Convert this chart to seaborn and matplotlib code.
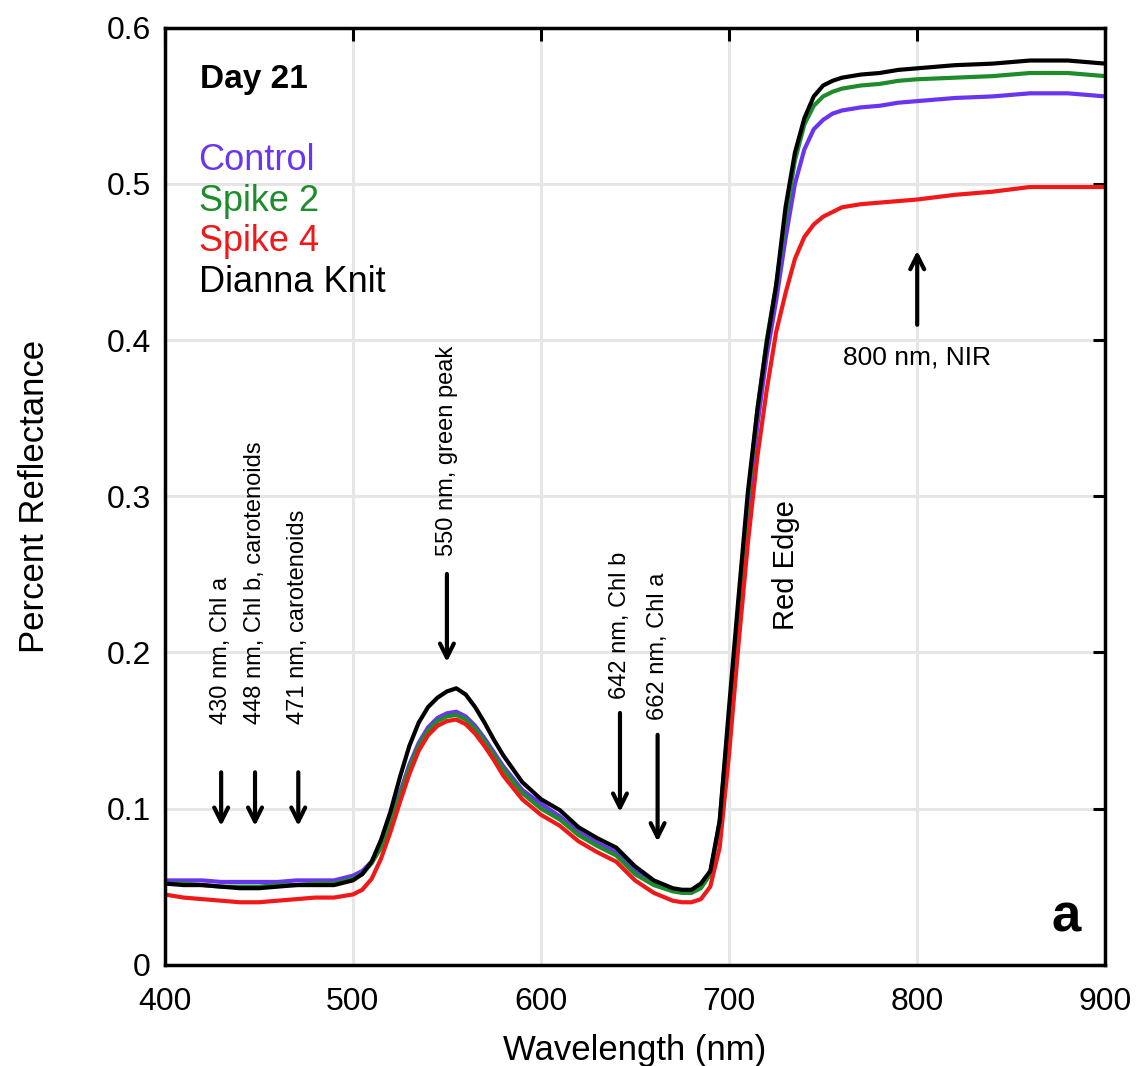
import numpy as np
import pandas as pd
import matplotlib
matplotlib.use("Agg")
import matplotlib.pyplot as plt
import seaborn as sns

# wavelengths (nm) shared by all four spectra
wavelength = [400, 410, 420, 430, 440, 450, 460, 470, 480, 490,
              500, 505, 510, 515, 520, 525, 530, 535, 540, 545,
              550, 555, 560, 565, 570, 575, 580, 590, 600, 610,
              620, 630, 640, 650, 660, 670, 675, 680, 685, 690,
              695, 700, 705, 710, 715, 720, 725, 730, 735, 740,
              745, 750, 755, 760, 770, 780, 790, 800, 820, 840,
              860, 880, 900]

control = [.054, .054, .054, .053, .053, .053, .053, .054, .054, .054,
           .057, .060, .066, .076, .092, .110, .128, .142, .152, .158,
           .161, .162, .159, .153, .145, .136, .127, .112, .103, .095,
           .085, .078, .072, .060, .052, .048, .047, .047, .050, .058,
           .090, .155, .225, .290, .345, .390, .425, .465, .500, .522,
           .535, .541, .545, .547, .549, .550, .552, .553, .555, .556,
           .558, .558, .556]

spike2 = [.052, .052, .051, .050, .050, .050, .051, .051, .052, .052,
          .055, .058, .065, .075, .090, .108, .126, .140, .150, .156,
          .159, .160, .157, .151, .143, .134, .125, .110, .100, .093,
          .083, .076, .070, .058, .051, .047, .046, .046, .049, .058,
          .092, .160, .230, .298, .355, .400, .435, .478, .515, .538,
          .550, .556, .559, .561, .563, .564, .566, .567, .568, .569,
          .571, .571, .569]

spike4 = [.045, .043, .042, .041, .040, .040, .041, .042, .043, .043,
          .045, .048, .055, .068, .085, .104, .122, .137, .147, .153,
          .156, .157, .154, .148, .140, .131, .121, .106, .096, .089,
          .079, .072, .066, .054, .046, .041, .040, .040, .042, .050,
          .075, .135, .205, .270, .325, .368, .405, .430, .452, .466,
          .474, .479, .482, .485, .487, .488, .489, .490, .493, .495,
          .498, .498, .498]

dianna_knit = [.052, .051, .051, .050, .049, .049, .050, .051, .051, .051,
               .054, .058, .066, .080, .098, .120, .140, .155, .165, .171,
               .175, .177, .173, .165, .155, .144, .134, .117, .106, .099,
               .088, .081, .075, .063, .054, .049, .048, .048, .052, .060,
               .092, .165, .235, .303, .355, .398, .435, .485, .520, .542,
               .556, .563, .566, .568, .570, .571, .573, .574, .576, .577,
               .579, .579, .577]

series_names = ["Control", "Spike 2", "Spike 4", "Dianna Knit"]
series_colors = ["#6a35f0", "#1e8c2a", "#f01818", "#000000"]

# annotations: (text, arrow x, arrow tail y, arrow head y, text bottom y)
down_marks = [
    ("430 nm, Chl a", 430, 0.125, 0.087, 0.154),
    ("448 nm, Chl b, carotenoids", 448, 0.125, 0.087, 0.154),
    ("471 nm, carotenoids", 471, 0.125, 0.087, 0.154),
    ("550 nm, green peak", 550, 0.252, 0.192, 0.262),
    ("642 nm, Chl b", 642, 0.163, 0.096, 0.170),
    ("662 nm, Chl a", 662, 0.149, 0.077, 0.157),
]

df = pd.DataFrame({
    "Wavelength": wavelength * 4,
    "Reflectance": control + spike2 + spike4 + dianna_knit,
    "Treatment": np.repeat(series_names, len(wavelength)),
})

sns.set_style("white")
plt.rcParams["font.family"] = ["Liberation Sans", "DejaVu Sans"]
plt.rcParams["text.color"] = "black"
plt.rcParams["axes.labelcolor"] = "black"
plt.rcParams["xtick.color"] = "black"
plt.rcParams["ytick.color"] = "black"

fig = plt.figure(figsize=(11.36, 10.66), dpi=100)
ax = fig.add_axes([0.145, 0.095, 0.828, 0.879])

ax.grid(True, color="#e6e6e6", lw=2.2, zorder=0)
sns.lineplot(data=df, x="Wavelength", y="Reflectance", hue="Treatment",
             hue_order=series_names, palette=series_colors, lw=3,
             legend=False, ax=ax, sort=False)

ax.set_xlim(400, 900)
ax.set_ylim(0, 0.6)
ax.set_xticks([400, 500, 600, 700, 800, 900])
ax.set_yticks([0, 0.1, 0.2, 0.3, 0.4, 0.5, 0.6])
ax.set_yticklabels(["0", "0.1", "0.2", "0.3", "0.4", "0.5", "0.6"])
ax.tick_params(direction="in", length=9, width=2.2, top=True, right=True,
               labelsize=23)
ax.tick_params(axis="x", pad=16)
ax.tick_params(axis="y", pad=10)
for sp in ax.spines.values():
    sp.set_linewidth(2.5)
    sp.set_color("black")

ax.set_xlabel("Wavelength (nm)", fontsize=25, labelpad=12)
ax.set_ylabel("Percent Reflectance", fontsize=25, labelpad=40)

# legend as coloured text
ax.text(419, 0.567, "Day 21", fontsize=24, fontweight="bold", va="center")
leg_y = [0.515, 0.489, 0.463, 0.437]
for name, col, yy in zip(series_names, series_colors, leg_y):
    ax.text(418, yy, name, color=col, fontsize=26, va="center")

# arrows and labels
arrow_style = dict(arrowstyle="->,head_length=1.0,head_width=0.5",
                   lw=3, color="black")
for txt, xx, y0, y1, yt in down_marks:
    ax.annotate("", xy=(xx, y1), xytext=(xx, y0), arrowprops=arrow_style)
    ax.text(xx, yt, txt, rotation=90, ha="center", va="bottom", fontsize=17)

ax.annotate("", xy=(800, 0.459), xytext=(800, 0.408), arrowprops=arrow_style)
ax.text(800, 0.389, "800 nm, NIR", ha="center", va="center", fontsize=19)
ax.text(730, 0.256, "Red Edge", rotation=90, ha="center", va="center", fontsize=21)
ax.text(879, 0.03, "a", ha="center", va="center", fontsize=38, fontweight="bold")

fig.savefig("out.png", dpi=100)
